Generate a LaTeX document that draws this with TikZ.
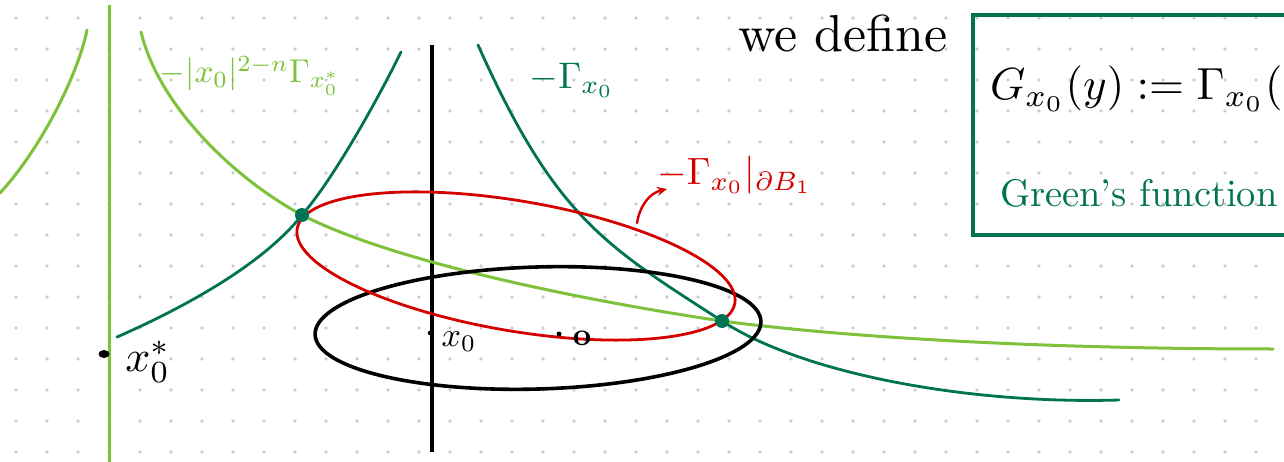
\documentclass[tikz,border=0pt]{standalone}
\usetikzlibrary{arrows.meta}
\definecolor{lgreen}{RGB}{125,194,58}
\definecolor{dgreen}{RGB}{0,115,82}
\definecolor{rred}{RGB}{212,0,0}
\definecolor{gridc}{RGB}{205,205,205}
\tikzset{
  lgcurve/.style={lgreen, line width=3pt, line cap=round},
  dgcurve/.style={dgreen, line width=2.8pt, line cap=round},
  axisline/.style={black, line width=3.4pt},
  bigdot/.style={fill=dgreen},
  lbl/.style={inner sep=0pt, outer sep=0pt, font=\normalsize},
  sz/.style={scale=#1/10},
}
\begin{document}
\begin{tikzpicture}[x=1pt,y=-1pt]
\useasboundingbox (0,0) rectangle (1284,462);
\clip (0,0) rectangle (1284,462);
\fill[white] (0,0) rectangle (1284,462);
% dot grid
\foreach \i in {0,...,40} {\foreach \j in {0,...,14} {\fill[gridc] ({16+31*\i},{18+31*\j}) circle (1.8pt);}}

% vertical lines
\coordinate (vgt) at (109,5);
\coordinate (vgb) at (109,462);
\draw[lgcurve, line cap=butt] (vgt) -- (vgb);
\coordinate (vbt) at (432,45);
\coordinate (vbb) at (432,452);
\draw[axisline] (vbt) -- (vbb);

% light green curves
\coordinate (la) at (0,193);
\coordinate (lb) at (87,30);
\draw[lgcurve] (la) .. controls (40,150) and (78,75) .. (lb);
\coordinate (lc) at (141,32);
\coordinate (p1) at (302,215);
\coordinate (p2) at (722,321);
\coordinate (ld) at (1273,349);
\draw[lgcurve] (lc) .. controls (160,110) and (240,182) .. (p1)
  .. controls (400,265) and (600,303) .. (p2)
  .. controls (850,338) and (1050,349) .. (ld);

% dark green curves
\coordinate (da) at (117,337);
\coordinate (db) at (401,52);
\draw[dgcurve] (da) .. controls (190,305) and (265,262) .. (p1)
  .. controls (335,177) and (380,95) .. (db);
\coordinate (dc) at (478,45);
\coordinate (dd) at (1119,400);
\draw[dgcurve] (dc) .. controls (555,217) and (604,245) .. (p2)
  .. controls (803,374) and (969,404.5) .. (dd);

% black ellipse
\coordinate (bc) at (538,328);
\draw[black, line width=3.6pt, rotate around={1.7:(bc)}] (bc) ellipse [x radius=223pt, y radius=61pt];

% red ellipse
\coordinate (rc) at (516,266);
\draw[rred, line width=2.8pt, rotate around={-9.65:(rc)}] (rc) ellipse [x radius=222pt, y radius=65pt];

% intersection dots
\fill[bigdot] (p1) circle (7pt);
\fill[bigdot] (p2) circle (7pt);

% small black dots
\fill[black] (104,354) ellipse [x radius=5.5pt, y radius=4pt];
\fill[black] (430,333) circle (2.3pt);
\fill[black] (559,334) circle (2.5pt);
\node[lbl, sz=32] (o) at (582,338) {\bfseries o};

% labels
\node[lbl, lgreen, sz=33] (lgl) at (250,76) {$-|x_0|^{2-n}\Gamma_{x_0^*}$};
\node[lbl, dgreen, sz=37] (dgl) at (572,80) {$-\Gamma_{x_0}$};
\node[lbl, rred, sz=38] (rl) at (735,175) {$-\Gamma_{x_0}|_{\partial B_1}$};
\coordinate (at) at (637,223);
\coordinate (ah) at (667,189);
\draw[rred, line width=2.4pt, line cap=round, -{Stealth[length=10pt,width=9pt]}] (at) .. controls (640,205) and (650,193) .. (ah);
\node[lbl, sz=44] (xs) at (148,362) {$x_0^*$};
\node[lbl, sz=34] (x0) at (459,342) {$x_0$};
\node[lbl, anchor=base west, sz=52] (wd) at (738,52) {we define};

% box
\coordinate (bx1) at (973,15);
\coordinate (bx2) at (1310,235);
\draw[dgreen, line width=3.2pt] (bx1) rectangle (bx2);
\node[lbl, anchor=base west, sz=45] (gdef) at (990,100) {$G_{x_0}(y) := \Gamma_{x_0}($};
\node[lbl, anchor=base west, dgreen, sz=38.5] (gf) at (1000,207) {Green's function};
\end{tikzpicture}
\end{document}
